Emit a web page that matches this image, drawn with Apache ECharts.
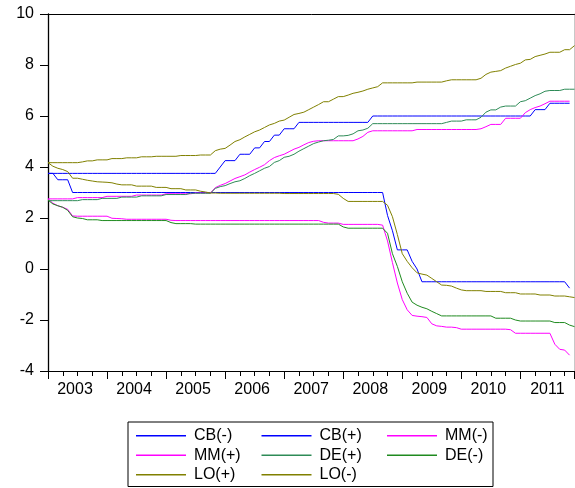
<!DOCTYPE html>
<html>
<head>
<meta charset="utf-8">
<script src="https://cdn.jsdelivr.net/npm/echarts@6/dist/echarts.min.js"></script>
<style>
html,body{margin:0;padding:0;background:#fff;}
#chart{width:575px;height:488px;}
</style>
</head>
<body>
<div id="chart"></div>
<script>
// Monthly observations, Jan 2003 .. Dec 2011 (108 months)
var yearLabels = ['2003','2004','2005','2006','2007','2008','2009','2010','2011'];
var seriesNames = ['CB(-)','CB(+)','MM(-)','MM(+)','DE(+)','DE(-)','LO(+)','LO(-)'];

var cbMinus = [
  3.75,3.75,3.5,3.5,3.5,3.0,3.0,3.0,3.0,3.0,3.0,3.0,
  3.0,3.0,3.0,3.0,3.0,3.0,3.0,3.0,3.0,3.0,3.0,3.0,
  3.0,3.0,3.0,3.0,3.0,3.0,3.0,3.0,3.0,3.0,3.0,3.0,
  3.0,3.0,3.0,3.0,3.0,3.0,3.0,3.0,3.0,3.0,3.0,3.0,
  3.0,3.0,3.0,3.0,3.0,3.0,3.0,3.0,3.0,3.0,3.0,3.0,
  3.0,3.0,3.0,3.0,3.0,3.0,3.0,3.0,3.0,2.1,1.5,0.75,
  0.75,0.75,0.3,0.0,-0.5,-0.5,-0.5,-0.5,-0.5,-0.5,-0.5,-0.5,
  -0.5,-0.5,-0.5,-0.5,-0.5,-0.5,-0.5,-0.5,-0.5,-0.5,-0.5,-0.5,
  -0.5,-0.5,-0.5,-0.5,-0.5,-0.5,-0.5,-0.5,-0.5,-0.5,-0.75,null
];
var cbPlus = [
  3.75,3.75,3.75,3.75,3.75,3.75,3.75,3.75,3.75,3.75,3.75,3.75,
  3.75,3.75,3.75,3.75,3.75,3.75,3.75,3.75,3.75,3.75,3.75,3.75,
  3.75,3.75,3.75,3.75,3.75,3.75,3.75,3.75,3.75,3.75,3.75,4.0,
  4.25,4.25,4.25,4.5,4.5,4.5,4.75,4.75,5.0,5.0,5.25,5.25,
  5.5,5.5,5.5,5.75,5.75,5.75,5.75,5.75,5.75,5.75,5.75,5.75,
  5.75,5.75,5.75,5.75,5.75,5.75,6.0,6.0,6.0,6.0,6.0,6.0,
  6.0,6.0,6.0,6.0,6.0,6.0,6.0,6.0,6.0,6.0,6.0,6.0,
  6.0,6.0,6.0,6.0,6.0,6.0,6.0,6.0,6.0,6.0,6.0,6.0,
  6.0,6.0,6.0,6.25,6.25,6.25,6.5,6.5,6.5,6.5,6.5,null
];
var mmMinus = [
  2.75,2.58,2.48,2.42,2.34,2.08,2.07,2.07,2.07,2.07,2.07,2.07,
  2.07,1.99,1.98,1.97,1.95,1.95,1.95,1.95,1.95,1.95,1.95,1.95,
  1.95,1.91,1.9,1.9,1.9,1.9,1.9,1.9,1.9,1.9,1.9,1.9,
  1.9,1.9,1.9,1.9,1.9,1.9,1.9,1.9,1.9,1.9,1.9,1.9,
  1.9,1.9,1.9,1.9,1.9,1.9,1.9,1.9,1.83,1.8,1.8,1.8,
  1.75,1.75,1.75,1.75,1.75,1.75,1.75,1.75,1.72,1.1,0.25,-0.55,
  -1.2,-1.6,-1.82,-1.85,-1.87,-1.9,-2.15,-2.23,-2.25,-2.28,-2.28,-2.3,
  -2.36,-2.36,-2.36,-2.36,-2.36,-2.36,-2.36,-2.36,-2.36,-2.36,-2.38,-2.52,
  -2.52,-2.52,-2.52,-2.52,-2.52,-2.52,-2.52,-2.95,-3.15,-3.18,-3.38,null
];
var mmPlus = [
  2.75,2.75,2.75,2.75,2.75,2.75,2.8,2.8,2.8,2.8,2.8,2.8,
  2.85,2.85,2.85,2.85,2.85,2.85,2.9,2.9,2.9,2.9,2.9,2.9,
  2.95,2.95,2.95,2.95,2.95,2.95,2.98,2.98,2.98,2.98,3.19,3.28,
  3.35,3.45,3.55,3.62,3.69,3.8,3.9,3.99,4.09,4.25,4.37,4.44,
  4.5,4.6,4.7,4.77,4.87,4.96,5.01,5.03,5.03,5.03,5.03,5.03,
  5.03,5.03,5.03,5.1,5.2,5.36,5.42,5.42,5.42,5.42,5.42,5.42,
  5.42,5.42,5.42,5.47,5.47,5.47,5.47,5.47,5.47,5.47,5.47,5.47,
  5.47,5.47,5.47,5.47,5.5,5.58,5.67,5.67,5.67,5.91,5.91,5.91,
  5.91,6.13,6.25,6.33,6.39,6.48,6.58,6.58,6.58,6.58,6.58,null
];
var dePlus = [
  2.68,2.68,2.68,2.68,2.68,2.68,2.68,2.72,2.72,2.72,2.72,2.77,
  2.77,2.77,2.77,2.82,2.82,2.82,2.82,2.87,2.87,2.87,2.87,2.87,
  2.92,2.92,2.92,2.92,2.92,2.97,2.97,2.97,2.97,2.97,3.16,3.23,
  3.27,3.35,3.42,3.46,3.55,3.66,3.75,3.85,3.95,4.02,4.18,4.25,
  4.38,4.42,4.5,4.62,4.72,4.82,4.92,4.98,5.03,5.05,5.08,5.22,
  5.22,5.24,5.3,5.42,5.45,5.52,5.7,5.7,5.7,5.7,5.7,5.7,
  5.7,5.7,5.7,5.7,5.7,5.7,5.7,5.7,5.7,5.75,5.8,5.8,
  5.8,5.85,5.85,5.85,5.95,6.15,6.24,6.24,6.35,6.39,6.39,6.39,
  6.56,6.6,6.7,6.8,6.87,6.97,7.0,7.0,7.0,7.05,7.05,7.05
];
var deMinus = [
  2.7,2.55,2.48,2.42,2.3,2.05,2.0,1.98,1.93,1.93,1.93,1.9,
  1.9,1.9,1.9,1.9,1.9,1.9,1.9,1.9,1.9,1.9,1.9,1.9,
  1.9,1.82,1.78,1.78,1.78,1.78,1.76,1.76,1.76,1.76,1.76,1.76,
  1.76,1.76,1.76,1.76,1.76,1.76,1.76,1.76,1.76,1.76,1.76,1.76,
  1.76,1.76,1.76,1.76,1.76,1.76,1.76,1.76,1.76,1.76,1.76,1.76,
  1.65,1.6,1.6,1.6,1.6,1.6,1.6,1.6,1.6,1.4,0.6,0.1,
  -0.5,-0.95,-1.3,-1.42,-1.5,-1.56,-1.66,-1.75,-1.84,-1.84,-1.84,-1.84,
  -1.84,-1.84,-1.84,-1.84,-1.84,-1.84,-1.84,-1.93,-1.93,-1.93,-1.93,-2.0,
  -2.04,-2.04,-2.04,-2.04,-2.04,-2.04,-2.04,-2.1,-2.1,-2.1,-2.2,-2.26
];
var loPlus = [
  4.17,4.17,4.17,4.17,4.17,4.17,4.17,4.2,4.24,4.24,4.28,4.28,
  4.28,4.33,4.33,4.33,4.36,4.36,4.36,4.4,4.4,4.4,4.42,4.42,
  4.42,4.42,4.42,4.45,4.45,4.45,4.45,4.47,4.47,4.47,4.64,4.7,
  4.73,4.86,5.0,5.07,5.18,5.28,5.38,5.45,5.55,5.65,5.71,5.8,
  5.84,5.95,6.06,6.1,6.15,6.25,6.35,6.45,6.56,6.56,6.66,6.76,
  6.76,6.82,6.89,6.93,6.98,7.05,7.1,7.15,7.3,7.3,7.3,7.3,
  7.3,7.3,7.3,7.33,7.33,7.33,7.33,7.33,7.33,7.38,7.42,7.42,
  7.42,7.42,7.42,7.42,7.48,7.63,7.72,7.75,7.78,7.88,7.95,8.02,
  8.07,8.2,8.22,8.33,8.38,8.43,8.5,8.5,8.5,8.6,8.6,8.76
];
var loMinus = [
  4.17,4.03,3.95,3.9,3.82,3.56,3.56,3.52,3.48,3.45,3.42,3.41,
  3.4,3.38,3.33,3.3,3.3,3.3,3.25,3.25,3.25,3.25,3.2,3.2,
  3.2,3.15,3.15,3.15,3.1,3.1,3.1,3.05,3.02,2.98,2.98,2.97,
  2.97,2.97,2.97,2.97,2.97,2.97,2.97,2.97,2.97,2.97,2.97,2.97,
  2.96,2.96,2.96,2.96,2.96,2.96,2.96,2.96,2.96,2.96,2.96,2.93,
  2.77,2.65,2.65,2.65,2.65,2.65,2.65,2.65,2.65,2.5,2.05,1.35,
  0.6,0.3,0.05,-0.15,-0.2,-0.24,-0.37,-0.5,-0.63,-0.64,-0.67,-0.75,
  -0.82,-0.85,-0.85,-0.85,-0.85,-0.88,-0.88,-0.88,-0.88,-0.93,-0.93,-0.93,
  -0.98,-0.98,-0.98,-0.98,-1.02,-1.02,-1.02,-1.06,-1.06,-1.06,-1.09,-1.12
];

var seriesValues = [cbMinus, cbPlus, mmMinus, mmPlus, dePlus, deMinus, loPlus, loMinus];
var seriesColors = ['#0000ff','#0000ff','#ff00ff','#ff00ff','#2e8b57','#1f8a1f','#808000','#808000'];

function toPairs(arr){
  return arr.map(function(v, i){ return [i, v]; });
}

var FONT = 'Liberation Sans, Arial, sans-serif';
var chart = echarts.init(document.getElementById('chart'), null, {renderer:'canvas'});

var series = seriesNames.map(function(name, k){
  return {
    name: name,
    type: 'line',
    data: toPairs(seriesValues[k]),
    showSymbol: false,
    symbol: 'none',
    color: seriesColors[k],
    lineStyle: {color: seriesColors[k], width: 1},
    connectNulls: false,
    animation: false,
    z: 2
  };
});

var legendData = seriesNames.map(function(name, k){
  var col = k % 3;
  return {name: name, textStyle: {width: col === 2 ? 46 : 67.5}};
});

chart.setOption({
  animation: false,
  backgroundColor: '#ffffff',
  grid: {left: 48, right: 0.5, top: 14, bottom: 117, containLabel: false},
  xAxis: [{
    type: 'value', min: 0, max: 107, interval: 12,
    axisLine: {show: true, onZero: false, lineStyle: {color: '#000', width: 1}},
    axisTick: {show: true, length: 8, lineStyle: {color: '#000', width: 1}},
    minorTick: {show: true, splitNumber: 4, length: 5, lineStyle: {color: '#000', width: 1}},
    splitLine: {show: false},
    axisLabel: {
      show: true, margin: 11, fontSize: 16, fontFamily: FONT, color: '#000',
      padding: [0, 0, 0, 54], showMaxLabel: false,
      formatter: function(v){
        if (v % 12 === 0 && v / 12 < yearLabels.length) return yearLabels[v / 12];
        return '';
      }
    }
  }, {
    type: 'value', min: 0, max: 107, position: 'top',
    axisLine: {show: true, onZero: false, lineStyle: {color: '#000', width: 1}},
    axisTick: {show: false}, axisLabel: {show: false}, splitLine: {show: false}
  }],
  yAxis: [{
    type: 'value', min: -4, max: 10, interval: 2,
    axisLine: {show: true, onZero: false, lineStyle: {color: '#000', width: 1.3}},
    axisTick: {show: true, length: 8, lineStyle: {color: '#000', width: 1}},
    splitLine: {show: false},
    axisLabel: {margin: 14, fontSize: 16, fontFamily: FONT, color: '#000'}
  }, {
    type: 'value', min: -4, max: 10, position: 'right',
    axisLine: {show: true, onZero: false, lineStyle: {color: '#c8c8c8', width: 1}},
    axisTick: {show: false}, axisLabel: {show: false}, splitLine: {show: false}
  }],
  legend: {
    show: true,
    left: 128, top: 422, width: 360,
    orient: 'horizontal',
    icon: 'rect',
    itemWidth: 50, itemHeight: 1.5, itemGap: 0,
    padding: [4, 2, 2, 8],
    borderColor: '#000', borderWidth: 1,
    textStyle: {fontSize: 16, fontFamily: FONT, color: '#000', lineHeight: 19.5, padding: [0, 0, 0, 3]},
    data: legendData
  },
  series: series
});
</script>
</body>
</html>
